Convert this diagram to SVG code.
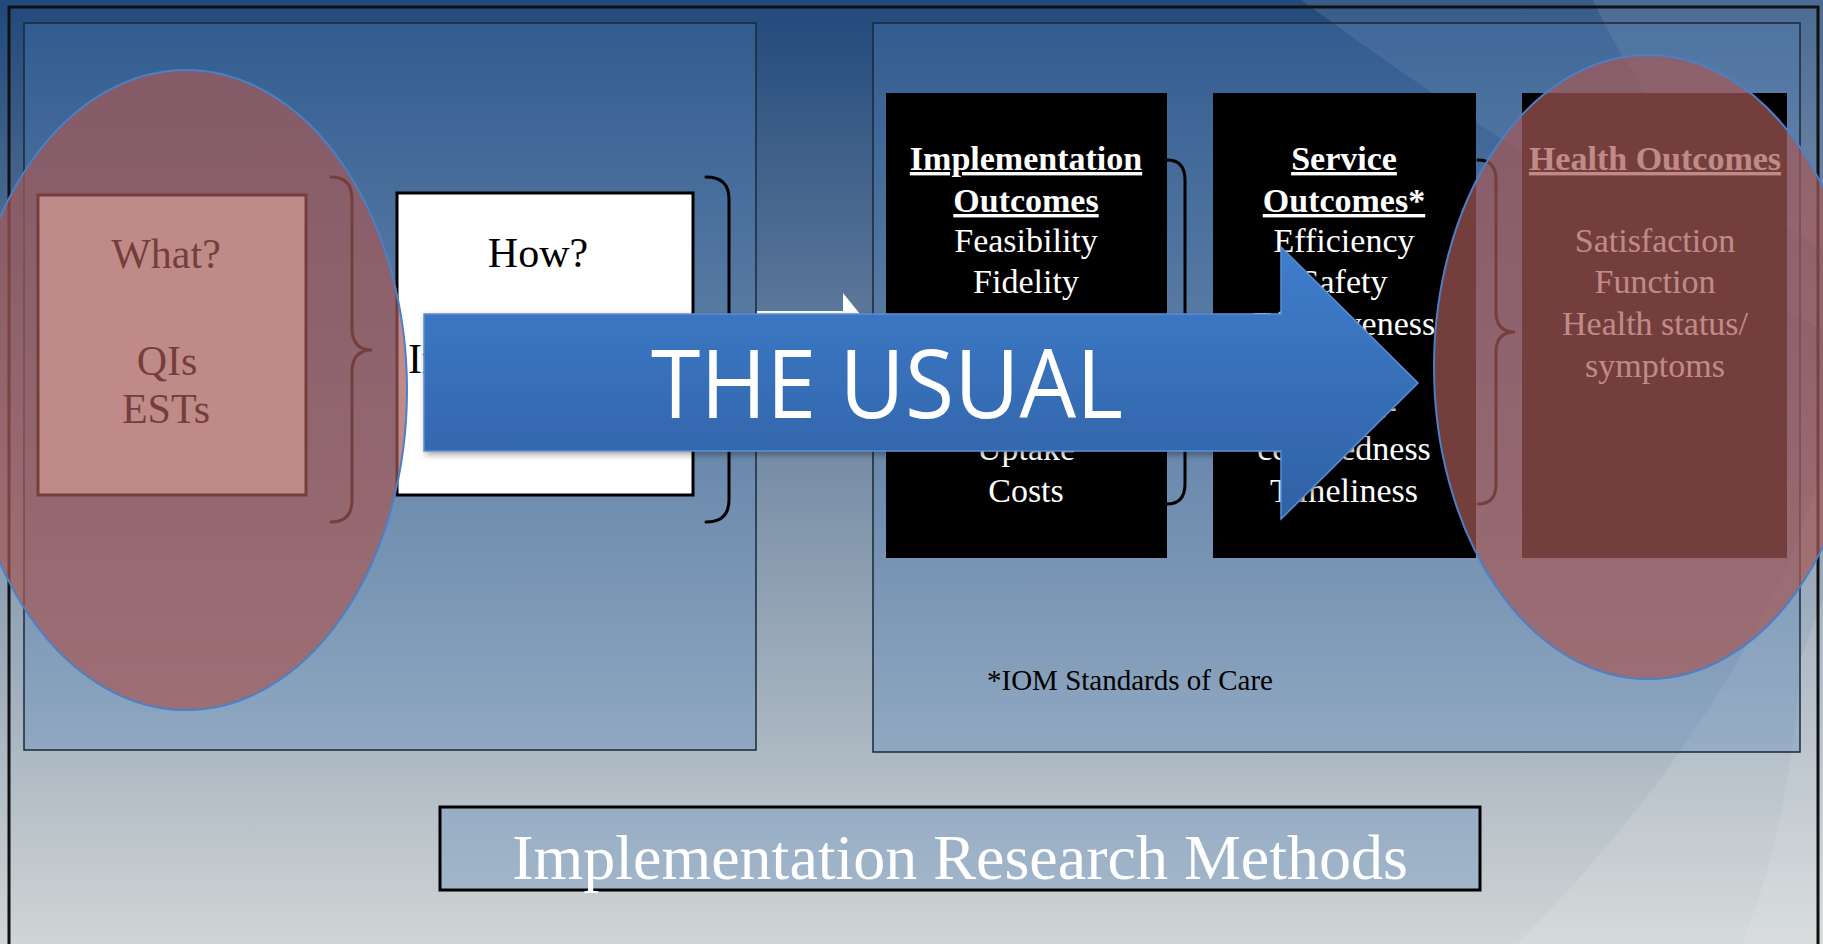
<svg xmlns="http://www.w3.org/2000/svg" width="1823" height="944" viewBox="0 0 1823 944">
<defs>
<linearGradient id="bg" x1="0" y1="0" x2="0" y2="1">
<stop offset="0" stop-color="#22497b"/>
<stop offset="1" stop-color="#d0d5d5"/>
</linearGradient>
<linearGradient id="arrowFill" x1="0" y1="0" x2="0" y2="1">
<stop offset="0" stop-color="#3f7dcb"/>
<stop offset="1" stop-color="#2f61a5"/>
</linearGradient>
<filter id="shadow" x="-5%" y="-10%" width="110%" height="125%">
<feDropShadow dx="2" dy="3" stdDeviation="3" flood-color="#000" flood-opacity="0.35"/>
</filter>
<style>
.panel{fill:rgb(80,130,190);fill-opacity:0.3;stroke:#1a2838;stroke-width:1.5}
.serif{font-family:"Liberation Serif","Times New Roman",serif}
.big{font-size:42px;text-anchor:middle}
.mid{font-size:34px;text-anchor:middle;fill:#fff}
.hdr{font-weight:bold;text-decoration:underline}
.brace{fill:none;stroke:#000;stroke-width:3;stroke-linecap:round}
.blk{fill:#000}
.overlay{fill:#a55855;fill-opacity:0.7;stroke:#4a80c8;stroke-width:2}
.swoosh{fill:#fff}
</style>
</defs>

<g id="background">
<rect x="0" y="0" width="1823" height="944" fill="url(#bg)"/>
<path class="swoosh" fill-opacity="0.1" d="M1301,0 Q1560,190 1823,330 L1823,0 Z"/>
<path class="swoosh" fill-opacity="0.1" d="M1593,0 Q1660,150 1823,250 L1823,0 Z"/>
<path class="swoosh" fill-opacity="0.12" d="M1517,944 Q1700,760 1790,560 L1823,470 L1823,944 Z"/>
<path class="swoosh" fill-opacity="0.1" d="M1742,944 Q1792,820 1800,660 L1823,600 L1823,944 Z"/>
<rect x="9" y="7" width="1809" height="945" fill="none" stroke="#111" stroke-width="3"/>
</g>

<g id="left-panel">
<rect class="panel" x="24" y="23" width="732" height="727"/>
</g>
<g id="right-panel">
<rect class="panel" x="873" y="23" width="927" height="729"/>
</g>

<g id="what-box">
<rect x="38" y="195" width="268" height="300" fill="#fff" stroke="#000" stroke-width="3"/>
<text class="serif big" x="166" y="268">What?</text>
<text class="serif big" x="167" y="375">QIs</text>
<text class="serif big" x="166" y="423">ESTs</text>
</g>

<g id="how-box">
<rect x="397" y="193" width="296" height="302" fill="#fff" stroke="#000" stroke-width="3"/>
<text class="serif big" x="538" y="267">How?</text>
<text class="serif big" x="541" y="373">Implementation</text>
</g>

<g id="implementation-outcomes">
<rect class="blk" x="886" y="93" width="281" height="465"/>
<text class="serif mid hdr" x="1026" y="170">Implementation</text>
<text class="serif mid hdr" x="1026" y="212">Outcomes</text>
<text class="serif mid" x="1026" y="252">Feasibility</text>
<text class="serif mid" x="1026" y="293">Fidelity</text>
<text class="serif mid" x="1026" y="460">Uptake</text>
<text class="serif mid" x="1026" y="502">Costs</text>
</g>

<g id="service-outcomes">
<rect class="blk" x="1213" y="93" width="263" height="465"/>
<text class="serif mid hdr" x="1344" y="170">Service</text>
<text class="serif mid hdr" x="1344" y="212">Outcomes*</text>
<text class="serif mid" x="1344" y="252">Efficiency</text>
<text class="serif mid" x="1344" y="293">Safety</text>
<text class="serif mid" x="1344" y="335">Effectiveness</text>
<text class="serif mid" x="1344" y="418">Patient-</text>
<text class="serif mid" x="1344" y="460">centeredness</text>
<text class="serif mid" x="1344" y="502">Timeliness</text>
</g>

<g id="health-outcomes">
<rect class="blk" x="1522" y="93" width="265" height="465"/>
<text class="serif mid hdr" x="1655" y="170">Health Outcomes</text>
<text class="serif mid" x="1655" y="252">Satisfaction</text>
<text class="serif mid" x="1655" y="293">Function</text>
<text class="serif mid" x="1655" y="335">Health status/</text>
<text class="serif mid" x="1655" y="377">symptoms</text>
</g>

<g id="iom-note">
<text class="serif" x="987" y="690" font-size="29" fill="#000">*IOM Standards of Care</text>
</g>

<g id="connectors">
<path class="brace" d="M331,177 Q352,177 352,199 L352,328 Q352,350 372,350 Q352,350 352,372 L352,500 Q352,522 331,522"/>
<path class="brace" d="M706,177 Q729,177 729,199 L729,328 Q729,350 750,350 Q729,350 729,372 L729,500 Q729,522 706,522"/>
<path class="brace" d="M1167,160 Q1185,160 1185,180 L1185,312 Q1185,332 1203,332 Q1185,332 1185,352 L1185,484 Q1185,504 1167,504"/>
<path class="brace" d="M1478,160 Q1496,160 1496,180 L1496,312 Q1496,332 1515,332 Q1496,332 1496,352 L1496,484 Q1496,504 1478,504"/>
<path d="M757,311 L843,311 L843,293 L885,345 L843,397 L843,379 L757,379 Z" fill="#fff"/>
</g>

<g id="the-usual-arrow">
<path d="M424,314 L1281,314 L1281,247 L1418,383 L1281,519 L1281,451 L424,451 Z" fill="url(#arrowFill)" stroke="#5b8fd2" stroke-width="1.5" filter="url(#shadow)"/>
<text x="651" y="418" font-family="'Open Sans','DejaVu Sans',sans-serif" font-size="95" fill="#fff" textLength="472" lengthAdjust="spacingAndGlyphs">THE USUAL</text>
</g>

<g id="highlight-left">
<ellipse class="overlay" cx="186" cy="390" rx="221" ry="320"/>
</g>
<g id="highlight-right">
<ellipse class="overlay" cx="1648" cy="367" rx="214" ry="312"/>
</g>

<g id="title-box">
<rect class="panel" x="440" y="807" width="1040" height="83" style="stroke:#000;stroke-width:3"/>
<text class="serif" x="960" y="879" font-size="64" fill="#fff" text-anchor="middle">Implementation Research Methods</text>
</g>
</svg>
